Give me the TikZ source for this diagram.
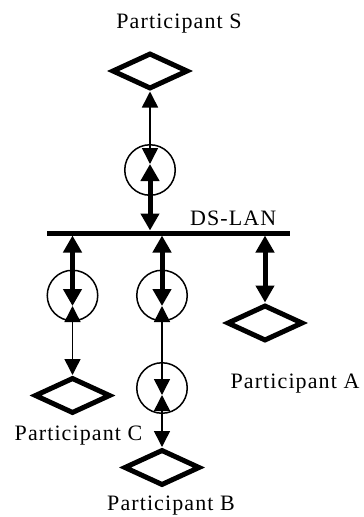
\documentclass[tikz,border=0pt]{standalone}
\usepackage{fontspec}
\setmainfont{Liberation Serif}[LetterSpace=5]
\usetikzlibrary{arrows.meta,shapes.geometric}

\tikzset{
  participant/.style={diamond, draw, line width=5pt, minimum width=76pt,
    minimum height=36pt, inner sep=0pt},
  relay/.style={circle, draw, line width=1.5pt, minimum size=50.5pt, inner sep=0pt},
  thinlink/.style={line width=1.5pt,
    {Triangle[length=16pt,width=16pt]}-{Triangle[length=16pt,width=16pt]}},
  thicklink/.style={line width=5pt,
    {Triangle[length=17pt,width=18pt]}-{Triangle[length=17pt,width=18pt]}},
  lanbus/.style={line width=5pt},
  ptext/.style={font=\fontsize{22}{26}\selectfont, inner sep=0pt, anchor=base},
}

\begin{document}
\begin{tikzpicture}[x=1pt, y=-1pt]
  \useasboundingbox (0,0) rectangle (364,517);

  % participants
  \node[participant] (dS) at (150,71) {};
  \node[participant] (dA) at (265,323) {};
  \node[participant] (dC) at (72.5,395.5) {};
  \node[participant] (dB) at (162,467.5) {};

  % relay circles
  \node[relay] (cS)  at (150,170) {};
  \node[relay] (cC)  at (72.5,295.5) {};
  \node[relay] (cB1) at (162,295.5) {};
  \node[relay] (cB2) at (162,388) {};

  % junction points inside the circles
  \coordinate (jS)  at (150,164);
  \coordinate (jC)  at (72.5,306);
  \coordinate (jB1) at (162,306);
  \coordinate (jB2) at (162,395);

  % LAN bus and its attachment points
  \coordinate (busL) at (47,233);
  \coordinate (busR) at (290,233);
  \draw[lanbus] (busL) -- (busR);
  \coordinate (bS) at (150,230.5);
  \coordinate (bC) at (72.5,235.5);
  \coordinate (bB) at (162,235.5);
  \coordinate (bA) at (265,235.5);

  % links
  \draw[thinlink]  (dS.south) -- (jS);
  \draw[thicklink] (jS) -- (bS);
  \draw[thicklink] (bC) -- (jC);
  \draw[thinlink]  (jC) -- (dC.north);
  \draw[thicklink] (bB) -- (jB1);
  \draw[thinlink]  (jB1) -- (jB2);
  \draw[thinlink]  (jB2) -- (dB.north);
  \draw[thicklink] (bA) -- (dA.north);

  % labels
  \node[ptext] (tS) at (179,28) {Participant S};
  \node[ptext, anchor=base west] (tLAN) at (190,225) {DS-LAN};
  \node[ptext] (tA) at (295,388) {Participant A};
  \node[ptext] (tC) at (78.5,440) {Participant C};
  \node[ptext] (tB) at (171,510) {Participant B};
\end{tikzpicture}
\end{document}
